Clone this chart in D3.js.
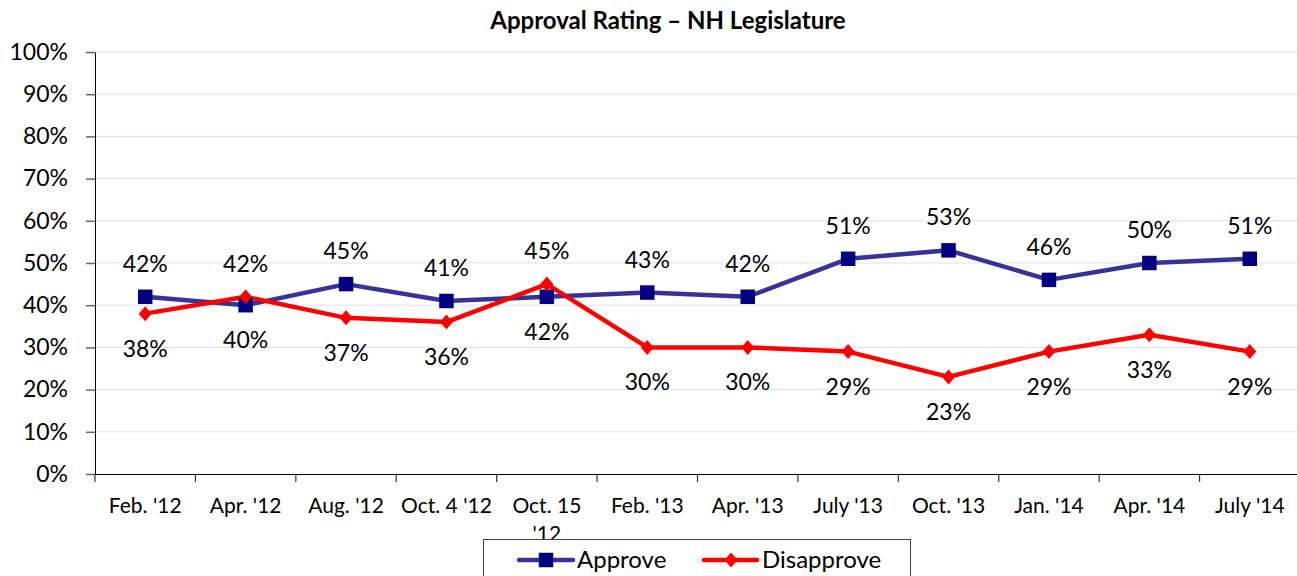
<!DOCTYPE html>
<html><head><meta charset="utf-8">
<script src="https://cdn.jsdelivr.net/npm/d3@7"></script>
<style>body{margin:0;background:#fff}svg{display:block}</style>
</head><body>
<script>
const categories = ["Feb. '12","Apr. '12","Aug. '12","Oct. 4 '12","Oct. 15 '12","Feb. '13","Apr. '13","July '13","Oct. '13","Jan. '14","Apr. '14","July '14"];
const approve = [42,40,45,41,42,43,42,51,53,46,50,51];
const disapprove = [38,42,37,36,45,30,30,29,23,29,33,29];
const yTicks = [0,10,20,30,40,50,60,70,80,90,100];
const title = "Approval Rating \u2013 NH Legislature";
const seriesNames = ["Approve","Disapprove"];

const W = 1297, H = 576;
const font = "Lato, 'Open Sans', sans-serif";
const svg = d3.select("body").append("svg").attr("width", W).attr("height", H);
const m = {left:95, top:52, bottom:474, right:1300};
const x = d3.scaleBand().domain(categories).range([m.left, m.right]);
const y = d3.scaleLinear().domain([0,100]).range([m.bottom, m.top]);

// grid
svg.append("g").selectAll("line").data(yTicks.filter(d=>d>0)).join("line")
  .attr("x1", m.left).attr("x2", W).attr("y1", d=>y(d)).attr("y2", d=>y(d))
  .attr("stroke", "#d9e2f1").attr("stroke-width", 1);

// y axis
const ya = svg.append("g").attr("transform", `translate(${m.left},0)`)
  .call(d3.axisLeft(y).tickValues(yTicks).tickFormat(d=>d+"%").tickSize(9).tickSizeOuter(0));
ya.select(".domain").attr("stroke", "#000");
ya.selectAll(".tick line").attr("stroke", "#666").attr("stroke-width", 1.5);
ya.selectAll("text").attr("font-family", font).attr("font-size", 23).attr("fill", "#000").attr("x", -27);

// x axis
const xa = svg.append("g").attr("transform", `translate(0,${m.bottom})`)
  .call(d3.axisBottom(x).tickSize(0).tickSizeOuter(0));
xa.select(".domain").attr("stroke", "#000").attr("stroke-width", 1.2);
xa.selectAll(".tick line").remove();
xa.selectAll(".tick text").remove();
const bounds = categories.map(c=>x(c)).concat([m.right]);
xa.selectAll(".bt").data(bounds).join("line").attr("class","bt")
  .attr("x1", d=>d).attr("x2", d=>d).attr("y1", 0).attr("y2", 8).attr("stroke", "#333").attr("stroke-width", 1.2);
const xl = svg.append("g");
categories.forEach(c=>{
  const cx = x(c) + x.bandwidth()/2;
  const t = xl.append("text").attr("x", cx).attr("y", 513).attr("text-anchor","middle")
    .attr("font-family", font).attr("font-size", 21).attr("fill", "#000");
  if (c === "Oct. 15 '12") {
    t.append("tspan").attr("x", cx).attr("dy", 0).text("Oct. 15");
    t.append("tspan").attr("x", cx).attr("dy", 28).text("'12");
  } else t.text(c);
});

// title
svg.append("text").attr("x", 668).attr("y", 29).attr("text-anchor","middle")
  .attr("font-family", font).attr("font-size", 24).attr("font-weight","bold").text(title);

const cx = c => x(c) + x.bandwidth()/2;
const line = d3.line().x((d,i)=>cx(categories[i])).y(d=>y(d));

svg.append("path").datum(approve).attr("d", line).attr("fill","none")
  .attr("stroke", "#333399").attr("stroke-width", 4.5).attr("stroke-linejoin","round");
svg.append("path").datum(disapprove).attr("d", line).attr("fill","none")
  .attr("stroke", "#ff0000").attr("stroke-width", 4.5).attr("stroke-linejoin","round");

const sq = d3.symbol().type(d3.symbolSquare).size(210);
const diamondType = { draw(ctx, size){ const w = 6.5, h = 7.5; ctx.moveTo(0,-h); ctx.lineTo(w,0); ctx.lineTo(0,h); ctx.lineTo(-w,0); ctx.closePath(); } };
const dm = d3.symbol().type(diamondType).size(1);
svg.append("g").selectAll("path").data(approve).join("path")
  .attr("d", sq).attr("transform", (d,i)=>`translate(${cx(categories[i])},${y(d)})`).attr("fill","#000080");
svg.append("g").selectAll("path").data(disapprove).join("path")
  .attr("d", dm).attr("transform", (d,i)=>`translate(${cx(categories[i])},${y(d)})`).attr("fill","#ff0000");

// labels: higher of the pair above, lower below
function labels(vals, other){
  svg.append("g").selectAll("text").data(vals).join("text")
    .attr("x", (d,i)=>cx(categories[i]))
    .attr("y", (d,i)=> d >= other[i] ? y(d) - 25 : y(d) + 43)
    .attr("text-anchor","middle").attr("font-family", font).attr("font-size", 23).attr("fill","#000")
    .text(d=>d+"%");
}
labels(approve, disapprove);
labels(disapprove, approve);

// legend
const lg = svg.append("g");
lg.append("rect").attr("x", 483.5).attr("y", 539.5).attr("width", 427).attr("height", 50)
  .attr("fill","#fff").attr("stroke","#444").attr("stroke-width",1);
lg.append("line").attr("x1",519).attr("x2",573).attr("y1",560).attr("y2",560).attr("stroke","#333399").attr("stroke-width",4.5).attr("stroke-linecap","round");
lg.append("path").attr("d", sq).attr("transform","translate(546,560)").attr("fill","#000080");
lg.append("text").attr("x",577).attr("y",568).attr("font-family",font).attr("font-size",24).text(seriesNames[0]);
lg.append("line").attr("x1",704).attr("x2",757).attr("y1",560).attr("y2",560).attr("stroke","#ff0000").attr("stroke-width",4.5).attr("stroke-linecap","round");
lg.append("path").attr("d", dm).attr("transform","translate(731,560)").attr("fill","#ff0000");
lg.append("text").attr("x",762).attr("y",568).attr("font-family",font).attr("font-size",24).text(seriesNames[1]);
</script>
</body></html>
